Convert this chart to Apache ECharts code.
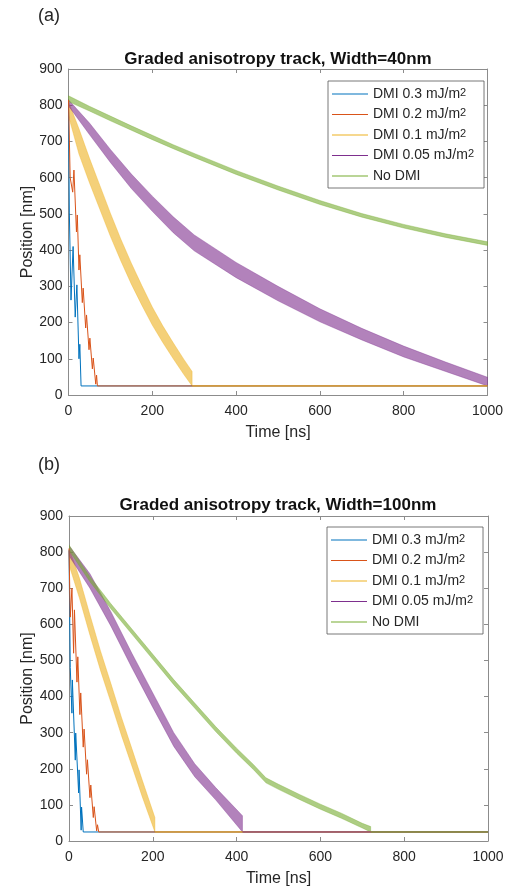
<!DOCTYPE html>
<html>
<head>
<meta charset="utf-8">
<script src="https://cdn.jsdelivr.net/npm/echarts@6/dist/echarts.min.js"></script>
<style>
  html, body { margin: 0; padding: 0; background: #fff; }
  #main { width: 509px; height: 892px; }
</style>
</head>
<body>
<div id="main"></div>
<script>
// series names / colours (matlab default order)
const names = ['DMI 0.3 mJ/m²', 'DMI 0.2 mJ/m²', 'DMI 0.1 mJ/m²', 'DMI 0.05 mJ/m²', 'No DMI'];
const colors = ['#0072BD', '#D95319', '#EDB120', '#7E2F8E', '#77AC30'];

// ---- panel (a), width 40nm ----
// few teeth: [time ns, position nm]
const blueA = [[0, 815], [2, 505], [6, 262], [11, 410], [16, 215], [20, 304], [25, 100], [27, 140], [30, 25], [1000, 25]];
const orangeA = [[0, 815], [4, 600], [10, 560], [13, 621], [19, 450], [21, 497], [25, 345], [27, 387], [33, 255], [35, 295],
  [41, 185], [43, 221], [49, 125], [51, 157], [57, 72], [59, 102], [65, 30], [67, 55], [69, 25], [1000, 25]];
// dense oscillation, read as envelope: [time, low, high]
const yellowA = [[0, 770, 810], [25, 665, 735], [50, 586, 654], [75, 512, 578], [100, 438, 502], [125, 370, 430], [150, 306, 364],
  [175, 248, 302], [200, 193, 243], [225, 145, 191], [250, 100, 144], [275, 57, 99], [295, 25, 65]];
const yellowAFloor = [[295, 25], [1000, 25]];
const purpleA = [[0, 798, 815], [50, 719, 751], [100, 642, 678], [150, 570, 610], [200, 507, 549], [250, 448, 492], [300, 398, 442],
  [400, 324, 366], [500, 260, 300], [600, 202, 238], [700, 152, 184], [800, 105, 135], [900, 65, 91], [1000, 25, 49]];
const greenA = [[0, 810, 826], [50, 784, 797], [100, 757, 770], [150, 731, 743], [200, 705, 717], [250, 680, 691], [300, 656, 667],
  [400, 609, 620], [500, 566, 577], [600, 526, 537], [700, 491, 501], [800, 461, 471], [900, 435, 445], [1000, 413, 423]];

// ---- panel (b), width 100nm ----
const blueB = [[0, 805], [3, 480], [7, 354], [8, 446], [15, 224], [16, 299], [23, 133], [24, 197], [29, 30], [30, 94], [34, 25], [1000, 25]];
const orangeB = [[0, 810], [3, 620], [7, 700], [11, 520], [13, 640], [19, 440], [21, 510], [26, 350], [28, 410], [34, 260], [36, 310],
  [42, 185], [44, 225], [50, 120], [52, 155], [58, 65], [60, 95], [66, 28], [68, 45], [71, 25], [1000, 25]];
const yellowB = [[0, 765, 812], [25, 672, 728], [50, 570, 626], [75, 473, 527], [100, 384, 436], [125, 293, 343], [150, 208, 256],
  [175, 122, 168], [205, 25, 65]];
const yellowBFloor = [[205, 25], [1000, 25]];
const purpleB = [[0, 790, 818], [50, 700, 740], [100, 595, 635], [150, 480, 520], [200, 370, 410], [250, 262, 300], [300, 178, 214],
  [350, 114, 148], [414, 25, 70]];
const purpleBFloor = [[414, 25], [1000, 25]];
const greenB = [[0, 805, 820], [50, 718, 732], [100, 643, 657], [150, 573, 587], [200, 503, 517], [250, 433, 447], [300, 368, 382],
  [350, 303, 317], [400, 243, 257], [440, 198, 212], [470, 161, 175], [500, 143, 157], [550, 115, 129], [600, 88, 102], [650, 63, 77],
  [700, 36, 49], [720, 25, 40]];
const greenBFloor = [[720, 25], [1000, 25]];

const axisGray = '#8c8c8c';
const textCol = '#262626';
const font = 'Liberation Sans, Arial, sans-serif';

function xAxes(grid) {
  return [
    { type: 'value', gridIndex: grid, min: 0, max: 1000, interval: 200, position: 'bottom',
      name: 'Time [ns]', nameLocation: 'middle', nameGap: 30, nameMoveOverlap: false,
      nameTextStyle: { color: textCol, fontSize: 16, fontFamily: font },
      axisLine: { onZero: false, lineStyle: { color: axisGray } },
      axisTick: { inside: true, length: 4, lineStyle: { color: axisGray } },
      axisLabel: { color: textCol, fontSize: 14, fontFamily: font, margin: 9, formatter: v => String(v) },
      splitLine: { show: false } },
    { type: 'value', gridIndex: grid, min: 0, max: 1000, interval: 200, position: 'top',
      axisLine: { onZero: false, lineStyle: { color: axisGray } },
      axisTick: { inside: true, length: 4, lineStyle: { color: axisGray } },
      axisLabel: { show: false }, splitLine: { show: false } }
  ];
}
function yAxes(grid) {
  return [
    { type: 'value', gridIndex: grid, min: 0, max: 900, interval: 100, position: 'left',
      name: 'Position [nm]', nameLocation: 'middle', nameGap: 33, nameMoveOverlap: false,
      nameTextStyle: { color: textCol, fontSize: 16, fontFamily: font },
      axisLine: { onZero: false, lineStyle: { color: axisGray } },
      axisTick: { inside: true, length: 4, lineStyle: { color: axisGray } },
      axisLabel: { color: textCol, fontSize: 14, fontFamily: font, margin: 6 },
      splitLine: { show: false } },
    { type: 'value', gridIndex: grid, min: 0, max: 900, interval: 100, position: 'right',
      axisLine: { onZero: false, lineStyle: { color: axisGray } },
      axisTick: { inside: true, length: 4, lineStyle: { color: axisGray } },
      axisLabel: { show: false }, splitLine: { show: false } }
  ];
}

function lineS(k, data, ax) {
  return { type: 'line', name: names[k], data: data, xAxisIndex: ax, yAxisIndex: ax,
    color: colors[k], symbol: 'none', showSymbol: false, lineStyle: { width: 1 }, clip: true };
}

// band between the low and high envelope of an oscillating trace
function renderBand(params, api) {
  if (params.dataIndexInside !== 0) return null;
  const n = params.dataInsideLength;
  const top = [], bot = [];
  for (let i = 0; i < n; i++) {
    top.push(api.coord([api.value(0, i), api.value(2, i)]));
    bot.push(api.coord([api.value(0, i), api.value(1, i)]));
  }
  return {
    type: 'polygon',
    shape: { points: top.concat(bot.reverse()) },
    style: { fill: api.visual('color'), opacity: 0.6, stroke: api.visual('color'), lineWidth: 0.6 }
  };
}
function bandS(k, data, ax) {
  return { type: 'custom', name: names[k], data: data, xAxisIndex: ax, yAxisIndex: ax,
    color: colors[k], itemStyle: { color: colors[k] }, renderItem: renderBand, clip: true,
    encode: { x: 0, y: [1, 2] } };
}

function legendFor(left, top) {
  return {
    orient: 'vertical', left: left, top: top,
    data: names.map((n, i) => ({ name: n, itemStyle: { color: colors[i] } })),
    icon: 'rect', itemWidth: 36, itemHeight: 1.2, itemGap: 6.5,
    backgroundColor: '#fff', borderColor: '#555', borderWidth: 0.8,
    padding: [6, 10, 5, 4],
    selectedMode: false,
    formatter: n => n.replace('²', '{sup|2}'),
    textStyle: { color: textCol, fontSize: 14, fontFamily: font,
      rich: { sup: { fontSize: 11, verticalAlign: 'top', fontFamily: font, color: textCol } } }
  };
}

const chart = echarts.init(document.getElementById('main'));
chart.setOption({
  animation: false,
  backgroundColor: '#fff',
  grid: [
    { left: 68.5, top: 69, width: 419, height: 326 },
    { left: 69, top: 516, width: 419, height: 325 }
  ],
  xAxis: xAxes(0).concat(xAxes(1)),
  yAxis: yAxes(0).concat(yAxes(1)),
  legend: [legendFor(328, 81), legendFor(327, 527)],
  graphic: [
    { type: 'text', x: 38, y: 7, style: { text: '(a)', fontSize: 18, fontFamily: font, fill: textCol } },
    { type: 'text', x: 278, y: 59, style: { text: 'Graded anisotropy track, Width=40nm', fontSize: 17, fontWeight: 'bold',
      fontFamily: font, fill: '#111', textAlign: 'center', textVerticalAlign: 'middle' } },
    { type: 'text', x: 38, y: 456, style: { text: '(b)', fontSize: 18, fontFamily: font, fill: textCol } },
    { type: 'text', x: 278, y: 505, style: { text: 'Graded anisotropy track, Width=100nm', fontSize: 17, fontWeight: 'bold',
      fontFamily: font, fill: '#111', textAlign: 'center', textVerticalAlign: 'middle' } }
  ],
  series: [
    lineS(0, blueA, 0),
    lineS(1, orangeA, 0),
    bandS(2, yellowA, 0),
    lineS(2, yellowAFloor, 0),
    bandS(3, purpleA, 0),
    bandS(4, greenA, 0),
    lineS(0, blueB, 2),
    lineS(1, orangeB, 2),
    bandS(2, yellowB, 2),
    lineS(2, yellowBFloor, 2),
    bandS(3, purpleB, 2),
    lineS(3, purpleBFloor, 2),
    bandS(4, greenB, 2),
    lineS(4, greenBFloor, 2)
  ]
});
</script>
</body>
</html>
